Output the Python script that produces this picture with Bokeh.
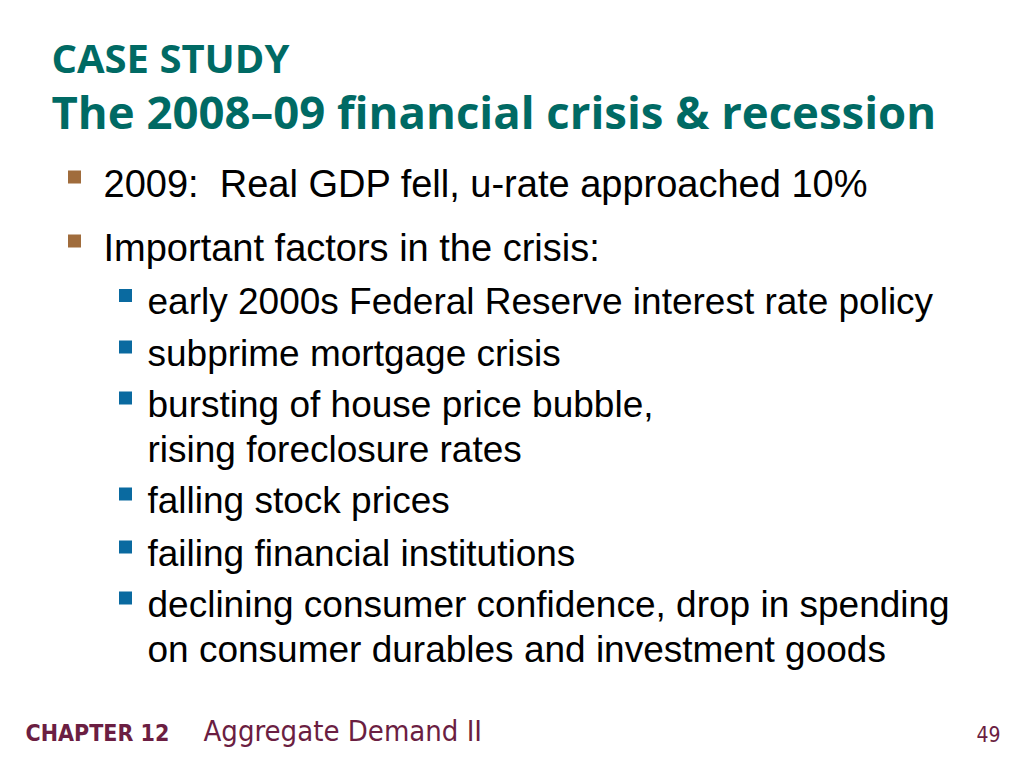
from bokeh.plotting import figure
from bokeh.models import Range1d
from bokeh.core.properties import value
from bokeh.embed import file_html
from bokeh.resources import INLINE

# Slide text
kicker = "CASE STUDY"
title = "The 2008\u201309 financial crisis & recession"
main_points = [
    ["2009:\u00a0 Real GDP fell, u-rate approached 10%"],
    ["Important factors in the crisis:"],
]
sub_points = [
    ["early 2000s Federal Reserve interest rate policy"],
    ["subprime mortgage crisis"],
    ["bursting of house price bubble,", "rising foreclosure rates"],
    ["falling stock prices"],
    ["failing financial institutions"],
    ["declining consumer confidence, drop in spending",
     "on consumer durables and investment goods"],
]
chapter = "CHAPTER 12"
chapter_title = "Aggregate Demand II"
page_no = "49"

TEAL = "#006a64"
BROWN = "#a06c3c"
BLUE = "#0a6aa0"
MAROON = "#6b1e42"
BODY = "Liberation Sans"
HEAD = "Open Sans"
FOOT = "Liberation Sans Narrow, DejaVu Sans Condensed, sans-serif"

# the svg text baseline lands a bit low, shift up by a share of the font size
def base(y, size, k):
    return y - k * size

p = figure(width=1008, height=752, x_range=Range1d(0, 1008), y_range=Range1d(752, 0),
           output_backend="svg", toolbar_location=None, min_border=0)
p.axis.visible = False
p.grid.visible = False
p.outline_line_color = None
p.background_fill_color = "white"

# headings
p.text(x=[51], y=[base(74, 40, 0.42)], text=[kicker], text_font=value(HEAD),
       text_font_style="bold", text_font_size="40px", text_color=TEAL,
       text_baseline="alphabetic")
p.text(x=[51], y=[base(130, 45.5, 0.42)], text=[title], text_font=value(HEAD),
       text_font_style="bold", text_font_size="45.5px", text_color=TEAL,
       text_baseline="alphabetic")

# first-level bullets
MS = 38
main_y = [197, 261]
mx, my, mt, bx, by = [], [], [], [], []
for lines, y0 in zip(main_points, main_y):
    bx.append(74)
    by.append(y0 - 20.5)
    for i, line in enumerate(lines):
        mx.append(103)
        my.append(base(y0 + i * 46, MS, 0.355))
        mt.append(line)
p.rect(x=bx, y=by, width=13, height=13, fill_color=BROWN, line_color=None)
p.text(x=mx, y=my, text=mt, text_font=value(BODY), text_font_size=f"{MS}px",
       text_color="black", text_baseline="alphabetic")

# second-level bullets
SS = 37
sub_y = [314.5, 366, 417, 513, 566, 617]
sx, sy, st, qx, qy = [], [], [], [], []
for lines, y0 in zip(sub_points, sub_y):
    qx.append(125)
    qy.append(y0 - 19.5)
    for i, line in enumerate(lines):
        sx.append(147)
        sy.append(base(y0 + i * 45.5, SS, 0.355))
        st.append(line)
p.rect(x=qx, y=qy, width=13, height=13, fill_color=BLUE, line_color=None)
p.text(x=sx, y=sy, text=st, text_font=value(BODY), text_font_size=f"{SS}px",
       text_color="black", text_baseline="alphabetic")

# footer
p.text(x=[25], y=[base(741, 23, 0.38)], text=[chapter], text_font=value(FOOT),
       text_font_style="bold", text_font_size="23px", text_color=MAROON,
       text_baseline="alphabetic")
p.text(x=[203], y=[base(742, 29, 0.38)], text=[chapter_title], text_font=value(FOOT),
       text_font_size="29px", text_color=MAROON, text_baseline="alphabetic")
p.text(x=[1000], y=[base(741, 21, 0.38)], text=[page_no], text_font=value(FOOT),
       text_align="right", text_font_size="21px", text_color=MAROON,
       text_baseline="alphabetic")

open("out.html", "w").write(file_html(p, INLINE))
